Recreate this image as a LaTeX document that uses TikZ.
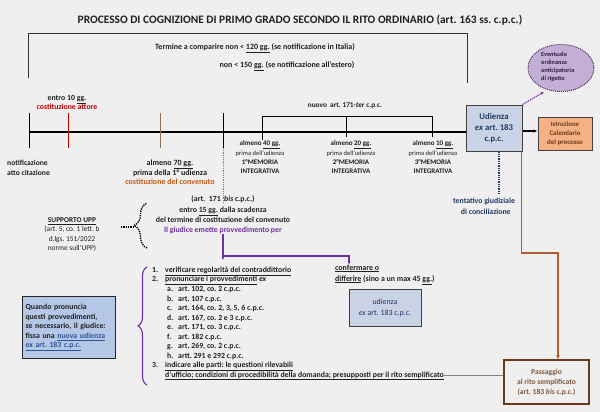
\documentclass[tikz,border=0pt]{standalone}
\usepackage{fontspec}
\setmainfont{Carlito}
\usetikzlibrary{arrows.meta,shapes.geometric,decorations.pathreplacing,calc}
\frenchspacing
\definecolor{bg}{HTML}{EFEFEF}
\definecolor{dblue}{HTML}{1F3864}
\definecolor{linkblue}{HTML}{2F5597}
\definecolor{boxblue}{HTML}{CAD3E5}
\definecolor{lblue}{HTML}{B4C7E7}
\definecolor{ora}{HTML}{F4B183}
\definecolor{purp}{HTML}{7030A0}
\definecolor{lpurp}{HTML}{C3AFD3}
\definecolor{dpurp}{HTML}{4B2A5E}
\definecolor{redc}{HTML}{C00000}
\definecolor{brownt}{HTML}{8B7355}
\definecolor{convc}{HTML}{C55A11}
\definecolor{brownl}{HTML}{B0602A}
\definecolor{dbrown}{HTML}{6B3A1A}
\definecolor{txt}{HTML}{202020}
\tikzset{
  t8/.style={font=\fontsize{8}{9.5}\selectfont\bfseries, text=txt, inner sep=0pt, align=center},
  lst/.style={font=\fontsize{7.8}{9.5}\selectfont\bfseries, text=txt, inner sep=0pt, anchor=base west},
  tick/.style={line width=1pt},
  boxu/.style={draw=black!75, line width=1pt, fill=boxblue, text=dblue, align=center, inner sep=1pt},
}
\newcommand{\rgsmall}{\fontsize{6.5}{9.3}\selectfont\mdseries}
\begin{document}
\frenchspacing
\begin{tikzpicture}[x=1pt,y=-1pt]
\fill[bg] (0,0) rectangle (600,412);
\useasboundingbox (0,0) rectangle (600,412);

% title
\node[font=\fontsize{11.4}{13}\selectfont\bfseries, text=txt, inner sep=0pt] (title) at (300,20)
  {PROCESSO DI COGNIZIONE DI PRIMO GRADO SECONDO IL RITO ORDINARIO (art. 163 ss. c.p.c.)};

% big bracket
\coordinate (bl) at (28,78);
\coordinate (br) at (467,83);
\draw[line width=0.9pt, black!80] (bl) |- (467,33) -- (br);
\node[t8] (term1) at (255,48) {Termine a comparire non < \underline{120 gg.} (se notificazione in Italia)};
\node[t8] (term2) at (287,66) {non < 150 \underline{gg.} (se notificazione all'estero)};

% timeline
\coordinate (tl0) at (29,132);
\node[boxu, minimum width=56pt, minimum height=46pt, font=\fontsize{8.7}{11}\selectfont\bfseries] (udienza) at (494,128)
  {Udienza\\\textit{ex} art. 183\\c.p.c.};
\node[draw=black!75, line width=1pt, fill=ora, minimum width=54pt, minimum height=33pt, align=center, inner sep=1pt,
  font=\fontsize{6.9}{9}\selectfont\bfseries, text=dbrown] (istr) at (565,133.5)
  {Istruzione\\Calendario\\del processo};
\draw[line width=1.2pt] (tl0) -- (tl0 -| udienza.west);
\draw[line width=1.2pt, -{Latex[length=4pt,width=3.5pt]}] (udienza.east |- 0,131) -- (istr.west |- 0,131);

% ticks
\draw[tick] (29,113) -- (29,148);
\draw[tick, redc] (68,113) -- (68,148);
\draw[tick, brownt] (160,113) -- (160,148);
\draw[tick] (223,113) -- (223,148);
\draw[gray, densely dotted, line width=0.8pt] (223,148) -- (223,203);

% 171-ter bracket
\draw[line width=0.9pt] (262,140) |- (432,116) -- (432,137);
\draw[line width=0.9pt] (346,116) -- (346,137);
\node[t8, font=\fontsize{7.3}{9}\selectfont\bfseries] (ter) at (345,106) {nuovo\ \ art. 171-\textit{ter} c.p.c.};

% labels above/below
\node[t8, font=\fontsize{7.8}{9}\selectfont\bfseries] (entro10) at (67,102.5) {entro 10 \underline{gg.}\\\textcolor{redc}{costituzione attore}};
\node[t8, font=\fontsize{7.6}{10}\selectfont\bfseries, align=left, anchor=west] (notif) at (7,168) {notificazione\\atto citazione};
\node[t8] (conv) at (170,172.5) {almeno \underline{70 gg.}\\prima della 1° udienza\\\textcolor{convc}{costituzione del convenuto}};
\node[t8, font=\fontsize{7}{9.3}\selectfont\bfseries] (mem1) at (260,157.5) {almeno \underline{40 gg.}\\{\rgsmall prima dell'udienza}\\1°MEMORIA\\INTEGRATIVA};
\node[t8, font=\fontsize{7}{9.3}\selectfont\bfseries] (mem2) at (351,157.5) {almeno \underline{20 gg.}\\{\rgsmall prima dell'udienza}\\2°MEMORIA\\INTEGRATIVA};
\node[t8, font=\fontsize{7}{9.3}\selectfont\bfseries] (mem3) at (433,157.5) {almeno \underline{10 gg.}\\{\rgsmall prima dell'udienza}\\3°MEMORIA\\INTEGRATIVA};

% ellipse
\node[ellipse, draw=dpurp, densely dotted, line width=1pt, fill=lpurp, minimum width=66pt, minimum height=47pt,
  inner sep=0pt] (ell) at (561,68) {};
\node[font=\fontsize{6.3}{7.8}\selectfont\bfseries, text=dpurp!70!black, align=left, anchor=west, inner sep=0pt] (elltxt) at (541,67)
  {Eventuale\\ordinanza\\anticipatoria\\di rigetto};
\draw[purp, densely dotted, line width=1.2pt, -{Latex[length=3pt,width=3pt]}, shorten >=4pt] (udienza.north east) -- (ell.238);

% tentativo
\node[t8, text=dblue, font=\fontsize{7.8}{11}\selectfont\bfseries] (tent) at (484,206.5) {tentativo giudiziale\\\ \ di conciliazione};
\draw[dblue, densely dotted, line width=1.3pt] (udienza.south -| 499,0) -- (499,193);

% passaggio
\node[draw=dbrown, line width=1.2pt, minimum width=85pt, minimum height=44pt, align=center, inner sep=1pt,
  font=\fontsize{7.6}{10}\selectfont\bfseries, text=dbrown!85] (pass) at (546.5,382)
  {Passaggio\\al rito semplificato\\(art. 183 \textit{bis} c.p.c.)};
\coordinate (bend) at (558,253);
\draw[brownl, line width=1.8pt, -{Latex[length=4pt,width=4pt]}] ([xshift=-1pt]udienza.south east) |- (bend) -- (bend |- pass.north);

% 171 bis block
\node[t8, font=\fontsize{7.8}{10.3}\selectfont\bfseries] (bis) at (223,215)
  {(art.\ \ 171\ \ \textit{bis} c.p.c.)\\entro \underline{15 gg.} dalla scadenza\\del termine di costituzione del convenuto\\\textcolor{purp}{Il giudice emette provvedimento per}};
\coordinate (pbr) at (223,256);
\node[t8, align=left, anchor=north west, font=\fontsize{7.9}{11}\selectfont\bfseries] (conf) at (335,264.5)
  {\underline{confermare o}\\\underline{differire} (sino a un max 45 \underline{gg.})};
\draw[purp, line width=1.2pt, -{Latex[length=3pt,width=3pt]}] (bis.south -| pbr) -- (223,260);
\draw[purp, line width=1.2pt, -{Latex[length=3pt,width=3pt]}] (pbr) -| ([xshift=14pt]conf.north west);

\node[boxu, minimum width=72pt, minimum height=37pt, font=\fontsize{7.9}{11}\selectfont\mdseries] (udz2) at (385,307.5)
  {udienza\\\textit{ex} art. 183 c.p.c.};

% UPP
\node[align=center, inner sep=0pt, text=txt, font=\fontsize{7.4}{9.2}\selectfont\mdseries] (upp) at (72,234.5)
  {\textbf{\underline{SUPPORTO UPP}}\\(art. 5, co. 1 lett. b\\d.lgs. 151/2022\\norme sull'UPP)};
\draw[decorate, decoration={brace, amplitude=13pt}, densely dotted, line width=1.3pt] (147,248) -- (147,203);
\coordinate (uppt) at (121,227);
\draw[densely dotted, line width=1.3pt] (uppt) -- (133,227);

% list
\draw[purp, line width=1.1pt, decorate, decoration={brace, amplitude=9pt}] (147,385) -- (147,267);
\node[lst] (n1) at (152,272) {1.};
\node[lst] (l1) at (165,272) {\underline{verificare regolarità del contraddittorio}};
\node[lst] (n2) at (152,281.5) {2.};
\node[lst] (l2) at (165,281.5) {\underline{pronunciare i provvedimenti} \textit{ex}};
\foreach \y/\l/\t in {291.5/a./{art. 102, co. 2 c.p.c.}, 301/b./{art. 107 c.p.c.}, 310.5/c./{art. 164, co. 2, 3, 5, 6 c.p.c.},
  320/d./{art. 167, co. 2 e 3 c.p.c.}, 329.5/e./{art. 171, co. 3 c.p.c.}, 339/f./{art. 182 c.p.c.},
  348.5/g./{art. 269, co. 2 c.p.c.}, 358/h./{artt. 291 e 292 c.p.c.}}{
  \node[lst] (let\l) at (167,\y) {\l};
  \node[lst] (it\l) at (178,\y) {\t};
}
\node[lst] (n3) at (152,367.5) {3.};
\node[lst] (l3a) at (165,367.5) {\underline{indicare alle parti: le questioni rilevabili}};
\node[lst] (l3b) at (165,377) {\underline{d'ufficio; condizioni di procedibilità della domanda; presupposti per il rito semplificato}};
\draw[gray, line width=0.6pt] (l3b.base east) ++(0,-2) coordinate (l3e) -- (l3e -| pass.west);

% blue box
\node[draw=black!85, line width=1.1pt, fill=lblue, anchor=north west, minimum width=93pt, minimum height=62pt,
  text width=87pt, align=left, inner sep=3pt, font=\fontsize{7.8}{9.6}\selectfont\bfseries, text=txt] (qbox) at (22,296)
  {Quando pronuncia\\questi provvedimenti,\\se necessario, il giudice:\\fissa una \textcolor{linkblue}{\underline{nuova udienza}}\\\textcolor{linkblue}{\underline{ex art. 183 c.p.c.}}};
\end{tikzpicture}
\end{document}
